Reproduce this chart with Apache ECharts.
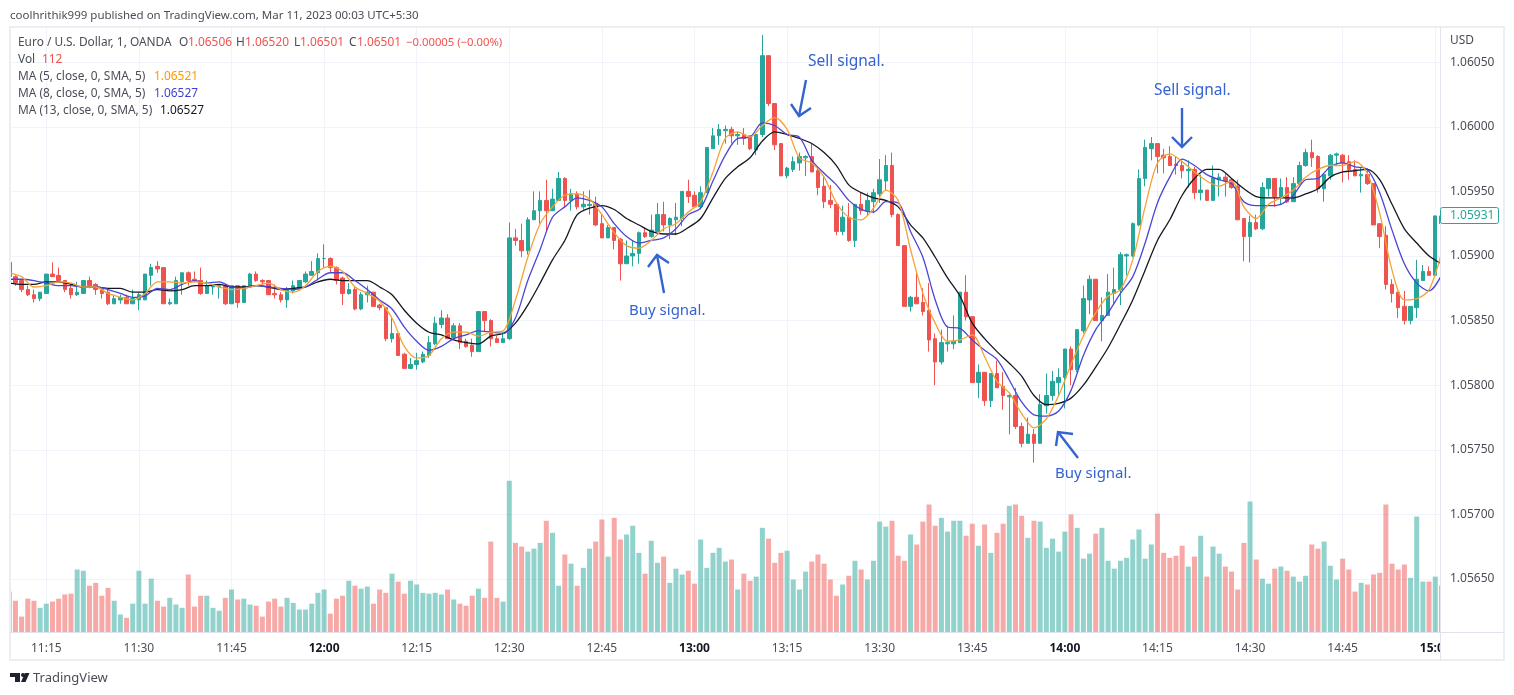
<!DOCTYPE html>
<html>
<head>
<meta charset="utf-8">
<title>EUR/USD 1 minute</title>
<script src="https://cdn.jsdelivr.net/npm/echarts@6/dist/echarts.min.js"></script>
<style>
html, body { margin: 0; padding: 0; background: #fff; }
#main { width: 1514px; height: 695px; }
</style>
</head>
<body>
<div id="main"></div>
<script>
// prices are points above 1.00000 (1 point = 0.00001), one row = 10 candles
// first candle is 11:09, minutes are counted from 11:00
var first_minute = 9;
var opens = [
5895,5884,5881,5874,5870,5867,5871,5886,5885,5881,
5875,5870,5871,5881,5878,5874,5872,5863,5866,5868,
5863,5866,5866,5885,5892,5891,5863,5863,5880,5887,
5882,5881,5871,5876,5876,5877,5863,5877,5864,5876,
5886,5881,5881,5871,5870,5866,5873,5875,5880,5885,
5887,5898,5898,5891,5883,5871,5874,5859,5870,5872,
5862,5860,5836,5840,5824,5813,5816,5818,5823,5832,
5847,5852,5837,5846,5834,5831,5826,5857,5850,5836,
5833,5836,5914,5912,5904,5928,5935,5943,5935,5943,
5960,5943,5948,5938,5939,5940,5925,5914,5922,5913,
5894,5900,5902,5918,5915,5919,5932,5924,5928,5929,
5950,5947,5938,5949,5983,5993,5997,5998,5993,5994,
5993,5982,5994,6055,6018,5987,5962,5967,5972,5976,
5977,5966,5954,5943,5940,5919,5930,5912,5940,5935,
5942,5948,5958,5970,5932,5908,5861,5868,5864,5858,
5836,5818,5832,5832,5833,5872,5853,5802,5810,5788,
5809,5799,5791,5792,5768,5755,5762,5755,5784,5792,
5802,5806,5828,5812,5842,5866,5882,5850,5854,5871,
5874,5900,5900,5924,5960,5983,5987,5978,5977,5971,
5970,5966,5967,5949,5951,5943,5959,5961,5959,5954,
5929,5915,5926,5921,5952,5960,5946,5953,5942,5956,
5970,5980,5977,5952,5962,5978,5978,5973,5967,5962,
5963,5956,5925,5916,5878,5872,5861,5850,5860,5881,
5888,5885,5931];
var closes = [
5884,5879,5874,5870,5867,5872,5886,5884,5881,5874,
5870,5872,5881,5877,5874,5871,5863,5867,5868,5863,
5867,5870,5886,5891,5890,5863,5864,5881,5887,5881,
5881,5871,5877,5877,5877,5863,5877,5864,5877,5886,
5881,5880,5870,5870,5866,5874,5877,5881,5886,5888,
5898,5898,5891,5881,5871,5874,5859,5870,5872,5861,
5860,5836,5840,5823,5813,5816,5819,5824,5833,5848,
5852,5836,5846,5833,5830,5826,5857,5850,5836,5833,
5836,5914,5912,5904,5928,5935,5943,5935,5944,5960,
5943,5948,5938,5940,5940,5924,5914,5922,5912,5894,
5900,5902,5918,5915,5920,5932,5924,5929,5930,5950,
5946,5938,5949,5984,5993,5998,5998,5993,5994,5991,
5983,5994,6055,6018,5986,5962,5968,5973,5977,5977,
5965,5953,5942,5940,5919,5930,5912,5940,5935,5943,
5949,5959,5970,5932,5908,5861,5868,5863,5857,5835,
5818,5833,5833,5834,5872,5853,5802,5810,5788,5809,
5798,5792,5792,5768,5755,5762,5755,5785,5792,5803,
5806,5828,5812,5843,5867,5882,5850,5854,5872,5874,
5901,5901,5925,5960,5984,5987,5977,5976,5970,5970,
5966,5967,5949,5951,5943,5960,5961,5958,5953,5928,
5915,5926,5921,5953,5960,5946,5953,5942,5956,5970,
5980,5976,5952,5963,5978,5979,5972,5967,5962,5963,
5956,5924,5915,5878,5871,5860,5850,5861,5882,5888,
5885,5931,5925];
var highs = [
5896,5885,5882,5877,5874,5872,5886,5895,5891,5881,
5877,5880,5881,5884,5879,5876,5874,5870,5870,5870,
5874,5872,5886,5894,5896,5891,5867,5884,5887,5888,
5888,5891,5881,5877,5877,5877,5877,5877,5877,5887,
5888,5882,5881,5878,5872,5876,5881,5881,5888,5896,
5902,5909,5899,5892,5884,5879,5876,5872,5877,5872,
5863,5860,5852,5840,5825,5821,5825,5826,5838,5853,
5858,5855,5848,5848,5836,5836,5857,5857,5851,5838,
5841,5926,5921,5925,5930,5950,5950,5959,5952,5965,
5961,5952,5950,5950,5951,5946,5932,5924,5922,5914,
5912,5912,5919,5922,5932,5941,5942,5930,5941,5950,
5959,5950,5954,5984,5999,6002,6001,6000,5996,5999,
5993,5994,6071,6055,6018,5987,5969,5977,5980,5978,
5987,5969,5961,5955,5940,5939,5941,5940,5949,5949,
5952,5975,5978,5980,5933,5908,5869,5888,5875,5879,
5840,5843,5846,5854,5872,5885,5853,5816,5810,5809,
5819,5810,5793,5798,5771,5775,5766,5793,5809,5811,
5813,5828,5830,5843,5877,5885,5882,5868,5886,5891,
5903,5902,5926,5967,5990,5992,5987,5983,5985,5977,
5974,5974,5969,5963,5951,5970,5964,5964,5960,5959,
5929,5931,5932,5957,5960,5960,5960,5961,5961,5973,
5983,5990,5978,5964,5979,5980,5979,5978,5974,5969,
5968,5956,5925,5923,5882,5872,5873,5861,5897,5893,
5892,5931,5932];
var lows = [
5883,5877,5872,5869,5864,5865,5871,5884,5880,5872,
5867,5869,5871,5875,5870,5867,5862,5863,5863,5863,
5863,5858,5866,5877,5887,5863,5862,5863,5870,5877,
5880,5870,5871,5870,5867,5862,5863,5860,5864,5876,
5880,5878,5870,5867,5864,5860,5871,5875,5879,5885,
5881,5891,5887,5878,5862,5870,5858,5858,5864,5861,
5858,5834,5833,5823,5813,5813,5812,5817,5821,5831,
5844,5836,5835,5828,5829,5822,5826,5841,5830,5833,
5833,5835,5908,5899,5901,5928,5925,5919,5935,5943,
5938,5935,5936,5936,5932,5923,5914,5914,5905,5881,
5894,5892,5894,5914,5914,5919,5919,5913,5916,5923,
5941,5937,5936,5949,5983,5986,5987,5987,5986,5986,
5982,5978,5992,6016,5982,5962,5960,5965,5966,5962,
5965,5947,5937,5937,5916,5916,5911,5907,5932,5931,
5933,5941,5951,5930,5908,5861,5857,5863,5854,5826,
5800,5816,5826,5828,5833,5850,5802,5790,5784,5783,
5798,5781,5762,5766,5752,5755,5740,5755,5778,5788,
5791,5782,5800,5810,5840,5855,5850,5834,5854,5863,
5862,5885,5899,5923,5954,5974,5964,5964,5970,5963,
5960,5953,5944,5943,5943,5943,5946,5946,5952,5928,
5896,5895,5920,5920,5946,5938,5940,5941,5942,5955,
5969,5969,5949,5942,5959,5970,5957,5959,5962,5949,
5955,5924,5906,5874,5864,5852,5847,5847,5852,5881,
5885,5885,5924];
var volumes = [
97,75,37,80,75,58,68,73,80,90,
92,150,147,111,118,87,106,75,42,34,
68,147,68,128,75,61,82,66,58,138,
61,87,87,58,51,82,102,78,80,66,
63,37,73,80,61,82,70,54,54,68,
94,102,44,80,87,123,111,104,109,68,
102,94,140,121,92,123,114,94,92,94,
90,102,78,68,63,87,104,82,217,82,
73,363,214,205,193,200,214,267,238,111,
186,164,111,154,200,217,270,181,274,222,
234,255,190,140,219,166,181,118,152,138,
147,116,222,154,190,202,169,174,102,140,
123,133,250,224,166,190,195,126,102,145,
169,186,164,126,87,114,135,171,150,126,
171,265,253,267,183,171,234,210,265,306,
255,274,241,267,267,231,260,207,258,190,
238,260,303,306,279,226,267,265,202,224,
193,241,282,250,176,188,236,250,171,152,
171,178,222,246,176,210,284,190,178,183,
207,157,181,231,133,205,188,157,145,102,
214,313,174,128,116,152,157,147,133,121,
135,210,200,217,159,126,176,150,97,118,
114,138,142,306,164,150,162,130,277,121,
121,133,111];
// moving averages read every second candle
var ma_step = 2;
var ma5 = [
5887,5884,5876,5877,5880,5879,5876,5876,5871,5868,
5866,5871,5880,5880,5879,5880,5879,5876,5874,5875,
5877,5879,5874,5872,5877,5888,5892,5888,5876,5871,
5865,5852,5830,5821,5823,5836,5841,5841,5838,5841,
5842,5866,5899,5925,5938,5947,5948,5944,5932,5918,
5908,5906,5912,5921,5925,5934,5942,5965,5991,5996,
5992,6001,6007,5998,5976,5972,5961,5941,5930,5928,
5937,5951,5943,5905,5871,5848,5834,5835,5839,5822,
5803,5794,5778,5767,5774,5792,5816,5838,5856,5869,
5874,5897,5938,5972,5979,5973,5965,5958,5954,5958,
5938,5929,5940,5945,5951,5961,5967,5970,5970,5973,
5964,5933,5889,5866,5867,5874,5902];
var ma8 = [
5882,5882,5881,5879,5877,5877,5876,5876,5874,5871,
5868,5869,5875,5874,5878,5881,5879,5880,5876,5875,
5877,5876,5875,5874,5876,5882,5887,5887,5881,5874,
5866,5859,5845,5834,5827,5830,5836,5839,5842,5841,
5840,5852,5881,5905,5930,5938,5945,5943,5938,5925,
5915,5910,5912,5914,5921,5932,5937,5958,5978,5991,
5992,6003,6001,5994,5992,5974,5964,5955,5943,5936,
5934,5942,5941,5919,5899,5866,5845,5844,5835,5827,
5820,5804,5787,5777,5776,5780,5796,5823,5843,5856,
5871,5884,5910,5941,5961,5975,5970,5963,5959,5956,
5942,5939,5939,5940,5947,5959,5960,5969,5972,5969,
5967,5949,5920,5894,5879,5873,5885];
var ma13 = [
5879,5878,5878,5880,5880,5878,5876,5876,5875,5875,
5872,5872,5874,5873,5874,5877,5877,5878,5876,5876,
5877,5876,5874,5875,5876,5880,5882,5881,5881,5881,
5876,5870,5858,5848,5841,5839,5835,5833,5832,5838,
5840,5848,5862,5879,5897,5912,5932,5937,5939,5936,
5929,5924,5919,5917,5917,5922,5929,5945,5960,5969,
5976,5989,5996,5994,5991,5987,5980,5970,5955,5949,
5945,5943,5938,5924,5914,5899,5883,5869,5848,5836,
5826,5817,5807,5792,5785,5786,5790,5800,5814,5829,
5847,5866,5889,5912,5928,5947,5960,5967,5967,5960,
5952,5946,5945,5945,5945,5948,5952,5961,5965,5966,
5967,5959,5940,5921,5910,5900,5894];
var time_ticks = [15,30,45,60,75,90,105,120,135,150,165,180,195,210,225,240];
var time_labels = ['11:15','11:30','11:45','12:00','12:15','12:30','12:45','13:00','13:15','13:30','13:45','14:00','14:15','14:30','14:45','15:00'];
var price_ticks = [1.0565,1.057,1.0575,1.058,1.0585,1.059,1.0595,1.06,1.0605];

var up_color = '#26a69a', down_color = '#ef5350';
var text_color = '#4a4d57';
var blue_note = '#3563d0';
var font = '"Noto Sans", sans-serif';

function to_price(p) { return (100000 + p) / 100000; }

var candle_data = [], volume_data = [];
for (var i = 0; i < opens.length; i++) {
    var m = first_minute + i;
    candle_data.push([m, to_price(opens[i]), to_price(closes[i]), to_price(lows[i]), to_price(highs[i])]);
    volume_data.push({
        value: [m, volumes[i]],
        itemStyle: { color: closes[i] >= opens[i] ? 'rgba(38,166,154,0.5)' : 'rgba(239,83,80,0.5)' }
    });
}
function ma_data(values) {
    return values.map(function (v, k) { return [first_minute + k * ma_step, to_price(v)]; });
}
function label(text, x, y, color, size) {
    return {
        type: 'text', x: x, y: y + 1, z: 200,
        style: { text: text, fill: color || text_color, font: (size || 11.9) + 'px ' + font, verticalAlign: 'middle' }
    };
}
function arrow(points) {
    return {
        type: 'polyline', z: 150,
        shape: { points: points },
        style: { stroke: blue_note, lineWidth: 2.4, fill: 'none' }
    };
}
function arrow_set(a, b, c, d) {
    return [arrow([a, b]), arrow([c, b, d])];
}

var last_close = to_price(closes[closes.length - 2]).toFixed(5);

var graphics = [
    // hides what is left past the price scale and left of the pane
    { type: 'rect', z: 120, shape: { x: 1441, y: 27, width: 7, height: 606 }, style: { fill: '#fff' } },
    { type: 'rect', z: 120, shape: { x: 1441, y: 633, width: 63, height: 26 }, style: { fill: '#fff' } },
    { type: 'rect', z: 120, shape: { x: 0, y: 27, width: 10, height: 632 }, style: { fill: '#fff' } },
    { type: 'rect', z: 130, shape: { x: 10, y: 27, width: 1494, height: 633 }, style: { fill: 'none', stroke: '#eceef2', lineWidth: 2 } },
    { type: 'polyline', z: 130, shape: { points: [[1440.5, 27], [1440.5, 660]] }, style: { stroke: '#e0e3eb', lineWidth: 1, fill: 'none' } },
    { type: 'polyline', z: 130, shape: { points: [[10, 632.5], [1504, 632.5]] }, style: { stroke: '#e0e3eb', lineWidth: 1, fill: 'none' } },

    label('coolhrithik999 published on TradingView.com, Mar 11, 2023 00:03 UTC+5:30', 10, 14.5, text_color, 11.5),
    label('Euro / U.S. Dollar, 1, OANDA', 18, 42),
    label('O', 179, 42), label('1.06506', 188, 42, down_color),
    label('H', 236, 42), label('1.06520', 245, 42, down_color),
    label('L', 294, 42), label('1.06501', 300, 42, down_color),
    label('C', 349, 42), label('1.06501', 357, 42, down_color),
    label('\u22120.00005 (\u22120.00%)', 406, 42, down_color, 11.3),
    label('Vol', 18, 59), label('112', 42, 59, down_color),
    label('MA (5, close, 0, SMA, 5)', 18, 76), label('1.06521', 154, 76, '#ff9800'),
    label('MA (8, close, 0, SMA, 5)', 18, 93), label('1.06527', 154, 93, '#3f3fd2'),
    label('MA (13, close, 0, SMA, 5)', 18, 110), label('1.06527', 160, 110, '#131722'),
    label('USD', 1450, 40),

    // last price tag
    { type: 'rect', z: 190, shape: { x: 1440.5, y: 207.5, width: 58, height: 16, r: 2 }, style: { fill: '#fff', stroke: up_color, lineWidth: 1 } },
    label(last_close, 1450, 215, up_color, 12),

    label('Sell signal.', 808, 61, blue_note, 15.5),
    label('Sell signal.', 1154, 90, blue_note, 15.5),
    label('Buy signal.', 629, 310, blue_note, 15),
    label('Buy signal.', 1055, 473, blue_note, 15),

    // tradingview mark
    { type: 'polygon', z: 200, shape: { points: [[10, 673], [20, 673], [20, 682], [15, 682], [15, 677], [10, 677]] }, style: { fill: '#1e222d' } },
    { type: 'circle', z: 200, shape: { cx: 23, cy: 675, r: 2 }, style: { fill: '#1e222d' } },
    { type: 'polygon', z: 200, shape: { points: [[25, 673], [29.5, 673], [25.5, 682], [21, 682]] }, style: { fill: '#1e222d' } },
    label('TradingView', 33, 677, '#4a4d57', 13)
];
graphics = graphics
    .concat(arrow_set([806, 80], [799, 116], [791, 104], [811, 108]))
    .concat(arrow_set([1182, 108], [1182, 147], [1172, 137], [1192, 137]))
    .concat(arrow_set([664, 293], [657, 255], [648, 267], [669, 263]))
    .concat(arrow_set([1078, 458], [1058, 432], [1056, 446], [1073, 434]));

var chart = echarts.init(document.getElementById('main'));
var option = {
    animation: false,
    backgroundColor: '#fff',
    textStyle: { fontFamily: font },
    grid: { left: 10, right: 74, top: 27, bottom: 63 },
    xAxis: {
        type: 'value',
        min: 9.12,
        max: 240.77,
        axisLine: { show: false },
        axisTick: { show: false, customValues: time_ticks },
        splitLine: { show: true, lineStyle: { color: '#f0f3fa', width: 1 } },
        axisLabel: {
            customValues: time_ticks,
            color: text_color,
            fontSize: 12,
            margin: 11,
            showMinLabel: true,
            showMaxLabel: true,
            formatter: function (v) {
                var text = time_labels[time_ticks.indexOf(v)];
                return v % 60 === 0 ? '{hour|' + text + '}' : text;
            },
            rich: { hour: { fontWeight: 'bold', color: '#131722', fontSize: 12, fontFamily: font } }
        }
    },
    yAxis: [
        {
            type: 'value',
            position: 'right',
            min: 1.05609,
            max: 1.060772,
            axisLine: { show: false },
            axisTick: { show: false, customValues: price_ticks },
            splitLine: { show: true, lineStyle: { color: '#f0f3fa', width: 1 } },
            axisLabel: {
                customValues: price_ticks,
                color: text_color,
                fontSize: 12,
                margin: 10,
                formatter: function (v) { return v.toFixed(5); }
            }
        },
        {
            type: 'value',
            min: 0,
            max: 1452,
            show: false,
            splitLine: { show: false }
        }
    ],
    series: [
        {
            name: 'Vol',
            type: 'bar',
            yAxisIndex: 1,
            barWidth: 5,
            clip: true,
            data: volume_data,
            z: 1
        },
        {
            name: 'EURUSD',
            type: 'candlestick',
            barWidth: 4,
            data: candle_data,
            itemStyle: {
                color: up_color,
                color0: down_color,
                borderColor: up_color,
                borderColor0: down_color,
                borderWidth: 1
            },
            z: 2
        },
        { name: 'MA 13', type: 'line', data: ma_data(ma13), symbol: 'none', smooth: 0.3, lineStyle: { color: '#131722', width: 1.3 }, z: 3 },
        { name: 'MA 8', type: 'line', data: ma_data(ma8), symbol: 'none', smooth: 0.3, lineStyle: { color: '#4a45d6', width: 1.3 }, z: 4 },
        { name: 'MA 5', type: 'line', data: ma_data(ma5), symbol: 'none', smooth: 0.3, lineStyle: { color: '#f5a236', width: 1.3 }, z: 5 }
    ],
    graphic: graphics
};
chart.setOption(option);
</script>
</body>
</html>
